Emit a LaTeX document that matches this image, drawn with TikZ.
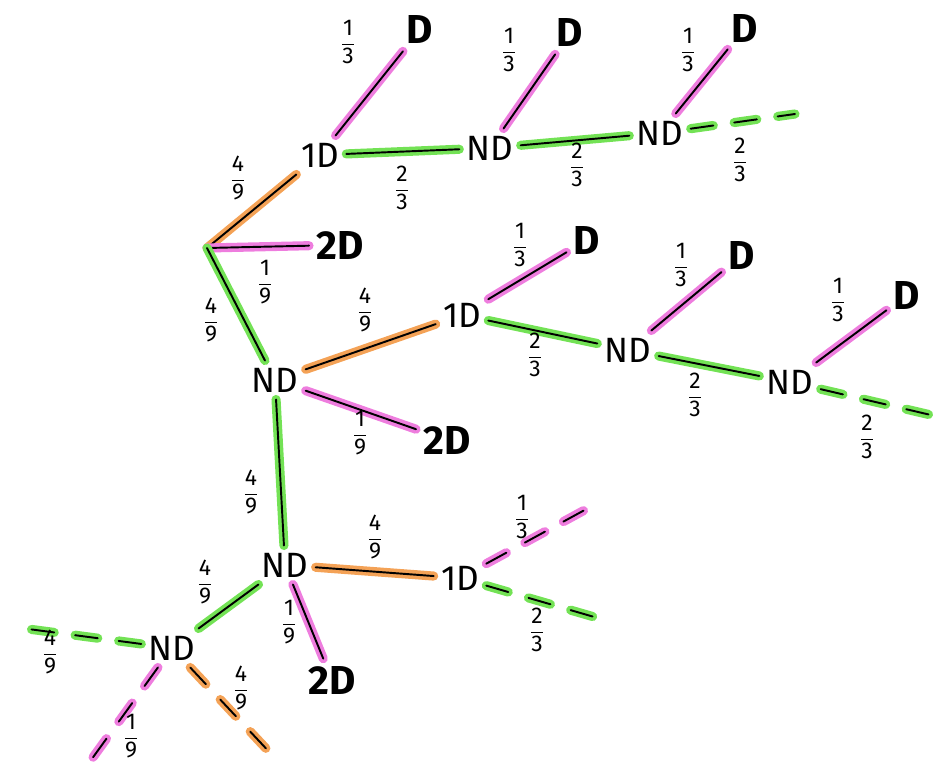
\documentclass[tikz,border=0pt]{standalone}
\usepackage{fontspec}
\setmainfont{Fira Sans}
\usetikzlibrary{calc}

\definecolor{pinkhl}{RGB}{238,125,222}
\definecolor{greenhl}{RGB}{115,226,85}
\definecolor{orangehl}{RGB}{244,162,86}

\newcommand{\fr}[2]{$\displaystyle\frac{\mbox{#1}}{\mbox{#2}}$}

\begin{document}
\begin{tikzpicture}[
  x=0.02cm,
  y=-0.02cm,
  state/.style={inner sep=4pt, font=\fontsize{20}{24}\selectfont},
  stop/.style={inner sep=4pt, font=\fontsize{23}{26}\selectfont\bfseries},
  prob/.style={inner sep=0pt, font=\fontsize{13}{15}\selectfont},
  hl/.style={preaction={draw=#1, line width=5.2pt, line cap=round},
             draw=black, line width=1.1pt, line cap=round},
  hldash/.style={preaction={draw=#1, line width=5.2pt, line cap=round,
                   dash pattern=on 13pt off 12pt},
             draw=black, line width=1.1pt, line cap=round,
             dash pattern=on 13pt off 12pt},
]
  \useasboundingbox (0,0) rectangle (948,767);

  % root
  \coordinate (r) at (207,248);
  \node[state] (a1) at (320,155) {1D};
  \node[stop]  (a2) at (340,245) {2D};
  \node[state] (a3) at (275,380) {ND};

  % top row
  \node[stop]  (d1) at (420,30) {D};
  \node[state] (b1) at (490,148) {ND};
  \node[stop]  (d2) at (570,33) {D};
  \node[state] (b2) at (660,133) {ND};
  \node[stop]  (d3) at (745,28) {D};
  \coordinate (e1) at (795,114);

  % middle row
  \node[state] (c1) at (462,315) {1D};
  \node[stop]  (c2) at (447,440) {2D};
  \node[state] (c3) at (285,565) {ND};
  \node[stop]  (d4) at (587,240) {D};
  \node[state] (c4) at (628,350) {ND};
  \node[stop]  (d5) at (742,255) {D};
  \node[state] (c5) at (790,382) {ND};
  \node[stop]  (d6) at (907,295) {D};
  \coordinate (e2) at (948,419);

  % bottom
  \node[state] (f1) at (460,578) {1D};
  \node[stop]  (f2) at (332,680) {2D};
  \node[state] (f3) at (172,648) {ND};
  \coordinate (e3) at (592,506);
  \coordinate (e4) at (608,621);
  \coordinate (e5) at (13,627);
  \coordinate (e6) at (86,767);
  \coordinate (e7) at (274,757);

  % connectors
  \draw[hl=orangehl] (r) -- (a1);
  \draw[hl=pinkhl]   (r) -- (a2);
  \draw[hl=greenhl]  (r) -- (a3);

  \draw[hl=pinkhl]  (a1) -- (d1);
  \draw[hl=greenhl] (a1) -- (b1);
  \draw[hl=pinkhl]  (b1) -- (d2);
  \draw[hl=greenhl] (b1) -- (b2);
  \draw[hl=pinkhl]  (b2) -- (d3);
  \draw[hldash=greenhl] (b2) -- (e1);

  \draw[hl=orangehl] (a3) -- (c1);
  \draw[hl=pinkhl]   (a3) -- (c2);
  \draw[hl=greenhl]  (a3) -- (c3);
  \draw[hl=pinkhl]   (c1) -- (d4);
  \draw[hl=greenhl]  (c1) -- (c4);
  \draw[hl=pinkhl]   (c4) -- (d5);
  \draw[hl=greenhl]  (c4) -- (c5);
  \draw[hl=pinkhl]   (c5) -- (d6);
  \draw[hldash=greenhl] (c5) -- (e2);

  \draw[hl=orangehl] (c3) -- (f1);
  \draw[hl=pinkhl]   (c3) -- (f2);
  \draw[hl=greenhl]  (c3) -- (f3);
  \draw[hldash=pinkhl]   (f1) -- (e3);
  \draw[hldash=greenhl]  (f1) -- (e4);
  \draw[hldash=greenhl]  (f3) -- (e5);
  \draw[hldash=pinkhl]   (f3) -- (e6);
  \draw[hldash=orangehl] (f3) -- (e7);

  % probabilities
  \node[prob] (p1)  at (238,178) {\fr{4}{9}};
  \node[prob] (p2)  at (265,282) {\fr{1}{9}};
  \node[prob] (p3)  at (211,320) {\fr{4}{9}};
  \node[prob] (p4)  at (348,42)  {\fr{1}{3}};
  \node[prob] (p5)  at (402,188) {\fr{2}{3}};
  \node[prob] (p6)  at (509,50)  {\fr{1}{3}};
  \node[prob] (p7)  at (577,165) {\fr{2}{3}};
  \node[prob] (p8)  at (688,50)  {\fr{1}{3}};
  \node[prob] (p9)  at (740,160) {\fr{2}{3}};
  \node[prob] (p10) at (365,310) {\fr{4}{9}};
  \node[prob] (p11) at (360,433) {\fr{1}{9}};
  \node[prob] (p12) at (251,492) {\fr{4}{9}};
  \node[prob] (p13) at (520,245) {\fr{1}{3}};
  \node[prob] (p14) at (535,355) {\fr{2}{3}};
  \node[prob] (p15) at (681,265) {\fr{1}{3}};
  \node[prob] (p16) at (695,395) {\fr{2}{3}};
  \node[prob] (p17) at (838,300) {\fr{1}{3}};
  \node[prob] (p18) at (867,437) {\fr{2}{3}};
  \node[prob] (p19) at (375,537) {\fr{4}{9}};
  \node[prob] (p20) at (289,622) {\fr{1}{9}};
  \node[prob] (p21) at (205,582) {\fr{4}{9}};
  \node[prob] (p22) at (522,517) {\fr{1}{3}};
  \node[prob] (p23) at (537,630) {\fr{2}{3}};
  \node[prob] (p24) at (50,652)  {\fr{4}{9}};
  \node[prob] (p25) at (131,736) {\fr{1}{9}};
  \node[prob] (p26) at (241,688) {\fr{4}{9}};
\end{tikzpicture}
\end{document}
